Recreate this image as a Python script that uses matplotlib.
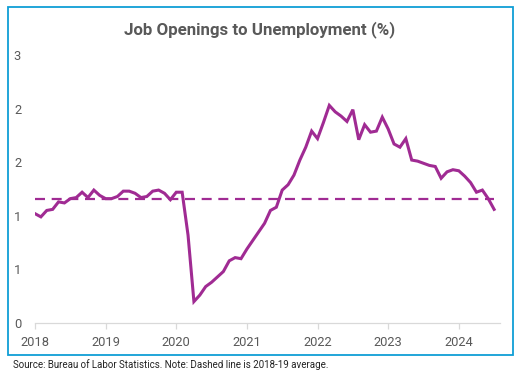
import numpy as np
import matplotlib
matplotlib.use("Agg")
import matplotlib.pyplot as plt
from matplotlib.patches import Rectangle

# Monthly job openings / unemployed ratio, Jan 2018 - Jul 2024
ratio = [
    # 2018
    1.02, 0.99, 1.05, 1.06, 1.13, 1.12, 1.16, 1.17, 1.22, 1.17, 1.24, 1.19,
    # 2019
    1.16, 1.16, 1.18, 1.23, 1.23, 1.21, 1.17, 1.18, 1.23, 1.24, 1.21, 1.15,
    # 2020
    1.22, 1.22, 0.82, 0.20, 0.26, 0.34, 0.38, 0.43, 0.48, 0.58, 0.61, 0.60,
    # 2021
    0.69, 0.77, 0.85, 0.93, 1.05, 1.08, 1.24, 1.29, 1.38, 1.52, 1.64, 1.79,
    # 2022
    1.72, 1.87, 2.03, 1.97, 1.93, 1.88, 1.99, 1.71, 1.85, 1.78, 1.79, 1.92,
    # 2023
    1.81, 1.67, 1.64, 1.72, 1.52, 1.51, 1.49, 1.47, 1.46, 1.35, 1.41, 1.43,
    # 2024
    1.42, 1.37, 1.31, 1.22, 1.24, 1.16, 1.06,
]
years = [2018, 2019, 2020, 2021, 2022, 2023, 2024]
ytick_vals = [0, 0.5, 1.0, 1.5, 2.0, 2.5]
ytick_labels = ["0", "1", "1", "2", "2", "3"]  # Excel "0" format rounds halves up

PURPLE = "#A02B93"
BORDER = "#0F9ED5"
GREY = "#595959"

plt.rcParams["font.family"] = ["Roboto", "DejaVu Sans"]

x = 2018 + np.arange(len(ratio)) / 12.0
avg_1819 = np.mean(ratio[:24])

fig = plt.figure(figsize=(5.19, 3.71), dpi=100)
ax = fig.add_axes([35 / 519, 48 / 371, 465 / 519, 268 / 371])

ax.plot(x, ratio, color=PURPLE, linewidth=2.2, solid_joinstyle="miter")
ax.plot([x[0], x[-1]], [avg_1819, avg_1819], color=PURPLE, linewidth=1.6,
        dashes=(4.5, 3))

ax.set_xlim(2018, 2024 + 7 / 12)
ax.set_ylim(0, 2.5)
ax.set_xticks(years)
ax.set_xticklabels([str(y) for y in years])
ax.set_yticks(ytick_vals)
ax.set_yticklabels(ytick_labels)

for side in ["top", "right", "left"]:
    ax.spines[side].set_visible(False)
ax.spines["bottom"].set_color("#D9D9D9")
ax.spines["bottom"].set_linewidth(0.9)
ax.tick_params(axis="x", colors="#D9D9D9", labelcolor=GREY, length=4,
               width=0.9, labelsize=9.3, pad=5)
ax.tick_params(axis="y", length=0, labelcolor=GREY, labelsize=9.3, pad=10)

fig.text(0.5, 1 - 30 / 371, "Job Openings to Unemployment (%)", ha="center",
         va="center", fontsize=12.2, fontweight="bold", color=GREY)
fig.text(13 / 519, 1 - 365 / 371,
         "Source: Bureau of Labor Statistics. Note: Dashed line is 2018-19 average.",
         ha="left", va="center", fontsize=7, color="#222222")

fig.patches.append(Rectangle((7.5 / 519, 1 - 355 / 371), 505 / 519, 348 / 371,
                             transform=fig.transFigure, fill=False,
                             edgecolor=BORDER, linewidth=1.3))

fig.savefig("out.png", dpi=100)
